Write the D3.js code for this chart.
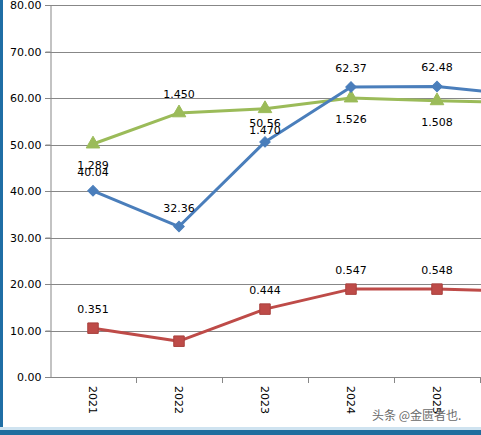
<!DOCTYPE html>
<html>
<head>
<meta charset="utf-8">
<script src="https://cdn.jsdelivr.net/npm/d3@7"></script>
<style>
  body { margin: 0; background: #fff; }
  svg { display: block; }
</style>
</head>
<body>
<div id="chart"></div>
<script>
// chart data
let years = ["2021", "2022", "2023", "2024", "2025", "2026"];
let blueValues = [40.04, 32.36, 50.56, 62.37, 62.48, 60.6];
let greenValues = [50.1, 56.8, 57.7, 60.0, 59.4, 59.0];
let redValues = [10.5, 7.7, 14.6, 18.9, 18.9, 18.4];
let blueLabels = ["40.04", "32.36", "50.56", "62.37", "62.48"];
let greenLabels = ["1.289", "1.450", "1.470", "1.526", "1.508"];
let redLabels = ["0.351", "", "0.444", "0.547", "0.548"];
let yTicks = [0, 10, 20, 30, 40, 50, 60, 70, 80];

// label side for the green series (1 = below the point, -1 = above)
let greenSide = [1, -1, 1, 1, 1];

let svgWidth = 481;
let svgHeight = 435;

let svg = d3.select("#chart")
  .append("svg")
  .attr("width", svgWidth)
  .attr("height", svgHeight)
  .style("font-family", "'DejaVu Sans', Verdana, sans-serif");

svg.append("rect")
  .attr("width", svgWidth)
  .attr("height", svgHeight)
  .attr("fill", "#fff");

// scales: plot runs off the right edge, like the crop
let x = d3.scaleBand()
  .domain(years)
  .range([50, 50 + 86 * years.length])
  .padding(0);

let y = d3.scaleLinear()
  .domain([0, 80])
  .range([377, 5]);

let cx = d => x(d) + x.bandwidth() / 2;

// gridlines
svg.append("g")
  .selectAll("line")
  .data(yTicks)
  .enter()
  .append("line")
  .attr("x1", 45)
  .attr("x2", svgWidth)
  .attr("y1", d => Math.round(y(d)) + 0.5)
  .attr("y2", d => Math.round(y(d)) + 0.5)
  .attr("stroke", "#878787")
  .attr("stroke-width", 1);

// y axis
let leftAxis = d3.axisLeft(y)
  .tickValues(yTicks)
  .tickFormat(d3.format(".2f"))
  .tickSize(5)
  .tickPadding(4);

let yAxisG = svg.append("g")
  .attr("transform", "translate(50.5, 0)")
  .call(leftAxis);
yAxisG.select(".domain").attr("stroke", "#878787");
yAxisG.selectAll(".tick line").attr("stroke", "#878787");
yAxisG.selectAll(".tick text")
  .attr("fill", "#000")
  .style("font-size", "11px")
  .style("font-family", "'DejaVu Sans', Verdana, sans-serif");

// x axis: ticks at category boundaries
svg.append("line")
  .attr("x1", 50)
  .attr("x2", svgWidth)
  .attr("y1", Math.round(y(0)) + 0.5)
  .attr("y2", Math.round(y(0)) + 0.5)
  .attr("stroke", "#878787");

svg.append("g")
  .selectAll("line")
  .data(years)
  .enter()
  .append("line")
  .attr("x1", d => Math.round(x(d) + x.bandwidth()) + 0.5)
  .attr("x2", d => Math.round(x(d) + x.bandwidth()) + 0.5)
  .attr("y1", y(0))
  .attr("y2", y(0) + 6)
  .attr("stroke", "#878787");

svg.append("g")
  .selectAll("text")
  .data(years)
  .enter()
  .append("text")
  .attr("transform", d => `translate(${cx(d) - 4}, ${y(0) + 9}) rotate(90)`)
  .attr("text-anchor", "start")
  .style("font-size", "11px")
  .attr("fill", "#000")
  .text(d => d);

// series lines
let series = [
  { values: redValues, color: "#BE4B48", marker: "square" },
  { values: greenValues, color: "#9BBB59", marker: "triangle" },
  { values: blueValues, color: "#4A7EBB", marker: "diamond" }
];

let line = d3.line()
  .x((d, i) => cx(years[i]))
  .y(d => y(d));

series.forEach(function(s) {
  svg.append("path")
    .datum(s.values)
    .attr("fill", "none")
    .attr("stroke", s.color)
    .attr("stroke-width", 3)
    .attr("stroke-linejoin", "round")
    .attr("d", line);

  // diamond = square turned 45deg (excel style, not d3's narrow diamond)
  let symType = s.marker === "triangle" ? d3.symbolTriangle : d3.symbolSquare;
  let symSize = s.marker === "square" ? 110 : s.marker === "triangle" ? 80 : 55;
  let rot = s.marker === "diamond" ? 45 : 0;

  svg.append("g")
    .selectAll("path")
    .data(s.values)
    .enter()
    .append("path")
    .attr("transform", (d, i) => `translate(${cx(years[i])}, ${y(d)}) rotate(${rot})`)
    .attr("d", d3.symbol().type(symType).size(symSize))
    .attr("fill", s.color)
    .attr("stroke", s.marker === "square" ? "#a8403d" : s.color)
    .attr("stroke-width", 1);
});

// data labels
function addLabels(labels, values, side) {
  svg.append("g")
    .selectAll("text")
    .data(labels)
    .enter()
    .append("text")
    .attr("x", (d, i) => cx(years[i]))
    .attr("y", (d, i) => side[i] < 0 ? y(values[i]) - 15 : y(values[i]) + 25)
    .attr("text-anchor", "middle")
    .style("font-size", "11px")
    .attr("fill", "#000")
    .text(d => d);
}

addLabels(blueLabels, blueValues, [-1, -1, -1, -1, -1]);
addLabels(greenLabels, greenValues, greenSide);
addLabels(redLabels, redValues, [-1, -1, -1, -1, -1]);

// frame: blue border on the left and the bottom
svg.append("rect")
  .attr("x", 0).attr("y", 0)
  .attr("width", 3).attr("height", svgHeight)
  .attr("fill", "#1f6ea5");
svg.append("rect")
  .attr("x", 0).attr("y", 427)
  .attr("width", svgWidth).attr("height", 3)
  .attr("fill", "#cfe3f0");
svg.append("rect")
  .attr("x", 0).attr("y", 430)
  .attr("width", svgWidth).attr("height", 5)
  .attr("fill", "#1f6e9e");

// watermark
svg.append("text")
  .attr("x", 372)
  .attr("y", 420)
  .style("font-family", "'Noto Sans CJK SC', sans-serif")
  .style("font-size", "12px")
  .attr("fill", "#6a6a6a")
  .text("头条 @金匮者也.");
</script>
</body>
</html>
